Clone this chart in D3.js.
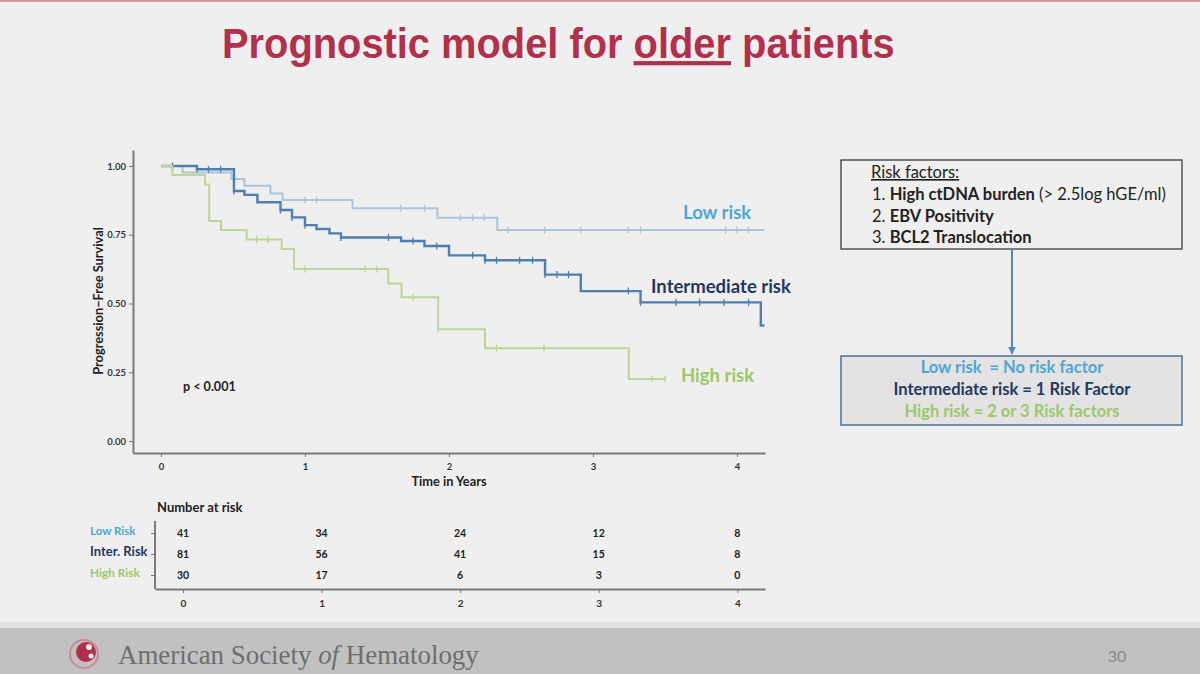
<!DOCTYPE html>
<html>
<head>
<meta charset="utf-8">
<script src="https://cdn.jsdelivr.net/npm/d3@7"></script>
<style>
  html, body { margin: 0; padding: 0; background: #efefef; }
  svg { display: block; }
</style>
</head>
<body>
<svg id="svg"></svg>
<script>
// survival steps: [time in years, survival after the drop]
const lowRiskSteps = [[0, 1.0], [0.15, 0.976], [0.49, 0.953], [0.58, 0.928], [0.76, 0.90], [0.845, 0.876], [1.33, 0.846], [1.92, 0.812], [2.335, 0.767]];
const lowRiskEnd = 4.19;
const lowRiskCensored = [1.0, 1.08, 1.665, 1.83, 2.08, 2.165, 2.245, 2.41, 2.665, 2.915, 3.245, 3.33, 3.92, 4.0, 4.08];

const interRiskSteps = [[0, 1.0], [0.25, 0.988], [0.507, 0.909], [0.58, 0.895], [0.67, 0.868], [0.83, 0.84], [0.91, 0.813], [1.0, 0.785], [1.08, 0.771], [1.17, 0.755], [1.25, 0.74], [1.667, 0.727], [1.83, 0.709], [2.0, 0.675], [2.25, 0.657], [2.667, 0.605], [2.915, 0.545], [3.33, 0.504], [4.165, 0.42]];
const interRiskEnd = 4.19;
const interRiskCensored = [0.08, 0.25, 0.33, 0.415, 0.507, 0.83, 0.91, 1.0, 1.25, 1.58, 1.75, 1.915, 2.165, 2.25, 2.33, 2.49, 2.58, 2.667, 2.75, 2.83, 3.245, 3.33, 3.576, 3.74, 3.91, 4.08];

const highRiskSteps = [[0, 1.0], [0.08, 0.967], [0.306, 0.933], [0.335, 0.80], [0.417, 0.767], [0.595, 0.733], [0.838, 0.698], [0.924, 0.625], [1.578, 0.573], [1.67, 0.523], [1.925, 0.406], [2.25, 0.337], [3.248, 0.225]];
const highRiskEnd = 3.5;
const highRiskCensored = [0.665, 0.745, 1.0, 1.417, 1.5, 1.75, 1.925, 2.33, 2.66, 3.41, 3.5];

const xTicks = [0, 1, 2, 3, 4];
const yTicks = [0, 0.25, 0.5, 0.75, 1];

// number at risk table
const riskRows = ["Low Risk", "Inter. Risk", "High Risk"];
const lowAtRisk = [41, 34, 24, 12, 8];
const interAtRisk = [81, 56, 41, 15, 8];
const highAtRisk = [30, 17, 6, 3, 0];

const riskFactors = ["High ctDNA burden", "EBV Positivity", "BCL2 Translocation"];
const riskGroups = ["Low risk  = No risk factor", "Intermediate risk = 1 Risk Factor", "High risk = 2 or 3 Risk factors"];

const width = 1200;
const height = 674;
const chartFont = "Lato, 'Open Sans', sans-serif";

const lowColour = "#adc5da";
const interColour = "#4e7fb0";
const highColour = "#bdd697";
const lowText = "#4ea6d6";
const interText = "#1f3864";
const highText = "#9cc86a";

let svg = d3.select("#svg").attr("width", width).attr("height", height);

// slide background, top rule and footer
svg.append("rect").attr("width", width).attr("height", height).attr("fill", "#efefef");
svg.append("rect").attr("width", width).attr("height", 2).attr("fill", "#d99a9a");
svg.append("rect").attr("y", 622).attr("width", width).attr("height", 6).attr("fill", "#e2e2e2");
svg.append("rect").attr("y", 628).attr("width", width).attr("height", 46).attr("fill", "#c1c1c1");

// title: normal bold face squeezed with a scale so it reads like a narrow bold
let title = svg.append("text")
    .style("font-family", "'Liberation Sans', Arial, sans-serif")
    .style("font-weight", "bold")
    .style("font-size", "42px")
    .style("fill", "#b3304d");
title.append("tspan").text("Prognostic model for ");
title.append("tspan").style("text-decoration", "underline").text("older");
title.append("tspan").text(" patients");
let titleW = title.node().getComputedTextLength();
title.attr("transform", "translate(222,58) scale(" + (673 / titleW) + ",1)");

// ---------- KM chart ----------
const xScale = d3.scaleLinear().domain([-0.194, 4.194]).range([133, 765]);
const yScale = d3.scaleLinear().domain([-0.0436, 1.058]).range([453, 150]);

let chart = svg.append("g");

chart.append("g")
    .attr("class", "x-axis")
    .attr("transform", "translate(0,453)")
    .call(d3.axisBottom(xScale).tickValues(xTicks).tickFormat(d3.format("d")).tickSize(4).tickSizeOuter(0));

chart.append("g")
    .attr("class", "y-axis")
    .attr("transform", "translate(133,0)")
    .call(d3.axisLeft(yScale).tickValues(yTicks).tickFormat(d3.format(".2f")).tickSize(4).tickSizeOuter(0));

chart.selectAll(".domain").attr("stroke", "#7a7a7a").attr("stroke-width", 2);
chart.selectAll(".tick line").attr("stroke", "#7a7a7a");
chart.selectAll(".tick text")
    .style("font-family", chartFont)
    .style("font-weight", "bold")
    .style("font-size", "9.5px")
    .style("fill", "#333");
chart.select(".x-axis").selectAll(".tick text").attr("dy", "1.1em");

chart.append("text")
    .attr("transform", "translate(103,301) rotate(-90)")
    .attr("text-anchor", "middle")
    .style("font-family", chartFont)
    .style("font-weight", "bold")
    .style("font-size", "12.8px")
    .style("fill", "#222")
    .text("Progression\u2212Free Survival");

chart.append("text")
    .attr("x", xScale(2))
    .attr("y", 486)
    .attr("text-anchor", "middle")
    .style("font-family", chartFont)
    .style("font-weight", "bold")
    .style("font-size", "12.8px")
    .style("fill", "#222")
    .text("Time in Years");

chart.append("text")
    .attr("x", 183)
    .attr("y", 391)
    .style("font-family", chartFont)
    .style("font-weight", "bold")
    .style("font-size", "12.6px")
    .style("fill", "#222")
    .text("p < 0.001");

const stepLine = d3.line()
    .x(d => xScale(d[0]))
    .y(d => yScale(d[1]))
    .curve(d3.curveStepAfter);

function survivalAt(steps, t) {
    let s = steps[0][1];
    for (let st of steps) {
        if (st[0] <= t + 1e-9) s = st[1];
    }
    return s;
}

function drawCurve(steps, end, censored, colour, lineWidth) {
    let pts = steps.concat([[end, steps[steps.length - 1][1]]]);
    chart.append("path")
        .datum(pts)
        .attr("d", stepLine)
        .attr("fill", "none")
        .attr("stroke", colour)
        .attr("stroke-width", lineWidth);

    chart.append("g").selectAll("line")
        .data(censored)
        .join("line")
        .attr("x1", d => xScale(d))
        .attr("x2", d => xScale(d))
        .attr("y1", d => yScale(survivalAt(steps, d)) - 3.5)
        .attr("y2", d => yScale(survivalAt(steps, d)) + 3.5)
        .attr("stroke", colour)
        .attr("stroke-width", 1.3);
}

drawCurve(lowRiskSteps, lowRiskEnd, lowRiskCensored, lowColour, 2);
drawCurve(interRiskSteps, interRiskEnd, interRiskCensored, interColour, 2.4);
drawCurve(highRiskSteps, highRiskEnd, highRiskCensored, highColour, 2);

// curve labels
const curveLabels = [
    { text: "Low risk", x: 683, y: 219, colour: lowText },
    { text: "Intermediate risk", x: 651, y: 293, colour: interText },
    { text: "High risk", x: 681, y: 382, colour: highText }
];
chart.selectAll(".curve-label")
    .data(curveLabels)
    .join("text")
    .attr("class", "curve-label")
    .attr("x", d => d.x)
    .attr("y", d => d.y)
    .style("font-family", chartFont)
    .style("font-weight", "bold")
    .style("font-size", "18.5px")
    .style("fill", d => d.colour)
    .text(d => d.text);

// ---------- number at risk table ----------
const tableX = d3.scaleLinear().domain([-0.202, 4.2]).range([155, 765]);
const rowY = d3.scalePoint().domain(riskRows).range([533, 575]);
const rowColours = [lowText, interText, highText];
const rowLabelSizes = [11.5, 13, 11.8];
const rowValues = [lowAtRisk, interAtRisk, highAtRisk];

let table = svg.append("g");

table.append("text")
    .attr("x", 157)
    .attr("y", 512)
    .style("font-family", chartFont)
    .style("font-weight", "bold")
    .style("font-size", "13px")
    .style("fill", "#222")
    .text("Number at risk");

table.append("g")
    .attr("class", "t-x-axis")
    .attr("transform", "translate(0,589)")
    .call(d3.axisBottom(tableX).tickValues(xTicks).tickFormat(d3.format("d")).tickSize(4).tickSizeOuter(0));

table.append("g")
    .attr("class", "t-y-axis")
    .attr("transform", "translate(155,0)")
    .call(d3.axisLeft(rowY).tickFormat("").tickSize(4).tickSizeOuter(0));

table.select(".t-y-axis .domain").attr("d", "M0,521V589");
table.selectAll(".domain").attr("stroke", "#7a7a7a").attr("stroke-width", 2);
table.selectAll(".tick line").attr("stroke", "#7a7a7a");
table.selectAll(".t-x-axis .tick text")
    .attr("dy", "1.1em")
    .style("font-family", chartFont)
    .style("font-weight", "bold")
    .style("font-size", "10px")
    .style("fill", "#333");

table.selectAll(".row-label")
    .data(riskRows)
    .join("text")
    .attr("class", "row-label")
    .attr("x", 90)
    .attr("y", d => rowY(d) + 2)
    .style("font-family", chartFont)
    .style("font-weight", "bold")
    .style("font-size", (d, i) => rowLabelSizes[i] + "px")
    .style("fill", (d, i) => rowColours[i])
    .text(d => d);

riskRows.forEach((r, i) => {
    table.append("g").selectAll("text")
        .data(rowValues[i])
        .join("text")
        .attr("x", (d, j) => tableX(xTicks[j]))
        .attr("y", rowY(r) + 4)
        .attr("text-anchor", "middle")
        .style("font-family", chartFont)
        .style("font-weight", "bold")
        .style("font-size", "10.5px")
        .style("fill", "#222")
        .text(d => d);
});

// ---------- risk factor boxes ----------
let boxes = svg.append("g");
const boxFont = "Lato, 'Open Sans', sans-serif";

boxes.append("rect")
    .attr("x", 841).attr("y", 160)
    .attr("width", 341).attr("height", 89)
    .attr("fill", "none")
    .attr("stroke", "#3a3a3a")
    .attr("stroke-width", 1.3);

boxes.append("text")
    .attr("x", 871).attr("y", 178)
    .style("font-family", boxFont)
    .style("font-size", "16.5px")
    .style("fill", "#222")
    .style("text-decoration", "underline")
    .text("Risk factors:");

riskFactors.forEach((f, i) => {
    let t = boxes.append("text")
        .attr("x", 872)
        .attr("y", 200 + i * 21.7)
        .style("font-family", boxFont)
        .style("font-size", "16.5px")
        .style("fill", "#222");
    t.append("tspan").text((i + 1) + ". ");
    t.append("tspan").style("font-weight", "bold").text(f);
    if (i === 0) t.append("tspan").text(" (> 2.5log hGE/ml)");
});

svg.append("defs").append("marker")
    .attr("id", "arrow")
    .attr("viewBox", "0 0 10 10")
    .attr("refX", 9).attr("refY", 5)
    .attr("markerWidth", 4).attr("markerHeight", 4)
    .attr("orient", "auto")
    .append("path")
    .attr("d", "M0,0L10,5L0,10Z")
    .attr("fill", "#5b86bb");

boxes.append("line")
    .attr("x1", 1012).attr("y1", 249)
    .attr("x2", 1012).attr("y2", 354)
    .attr("stroke", "#5b86bb")
    .attr("stroke-width", 2)
    .attr("marker-end", "url(#arrow)");

boxes.append("rect")
    .attr("x", 841).attr("y", 356)
    .attr("width", 341).attr("height", 69)
    .attr("fill", "#e3e3e3")
    .attr("stroke", "#4f6f98")
    .attr("stroke-width", 1.5);

boxes.selectAll(".group-text")
    .data(riskGroups)
    .join("text")
    .attr("class", "group-text")
    .attr("x", 1012)
    .attr("y", (d, i) => 372.5 + i * 22)
    .attr("text-anchor", "middle")
    .attr("xml:space", "preserve")
    .style("white-space", "pre")
    .style("font-family", boxFont)
    .style("font-weight", "bold")
    .style("font-size", "16.5px")
    .style("fill", (d, i) => rowColours[i])
    .text(d => d);

// ---------- footer ----------
let footer = svg.append("g");
footer.append("circle").attr("cx", 84).attr("cy", 654).attr("r", 14)
    .attr("fill", "none").attr("stroke", "#c98a95").attr("stroke-width", 2);
footer.append("circle").attr("cx", 86).attr("cy", 652).attr("r", 10).attr("fill", "#b3304d");
footer.append("circle").attr("cx", 89).attr("cy", 647).attr("r", 3).attr("fill", "#efefef");
footer.append("circle").attr("cx", 91).attr("cy", 656).attr("r", 2.5).attr("fill", "#efefef");

let ash = footer.append("text")
    .style("font-family", "'Liberation Serif', 'DejaVu Serif', serif")
    .style("font-size", "27px")
    .style("fill", "#6e6e6e");
ash.append("tspan").text("American Society ");
ash.append("tspan").style("font-style", "italic").text("of");
ash.append("tspan").text(" Hematology");
let ashW = ash.node().getComputedTextLength();
ash.attr("transform", "translate(118,664) scale(" + (361 / ashW) + ",1)");

footer.append("text")
    .attr("x", 1117).attr("y", 662)
    .attr("text-anchor", "middle")
    .style("font-family", "Lato, 'Open Sans', sans-serif")
    .style("font-size", "16px")
    .style("fill", "#8a8a8a")
    .text("30");
</script>
</body>
</html>
